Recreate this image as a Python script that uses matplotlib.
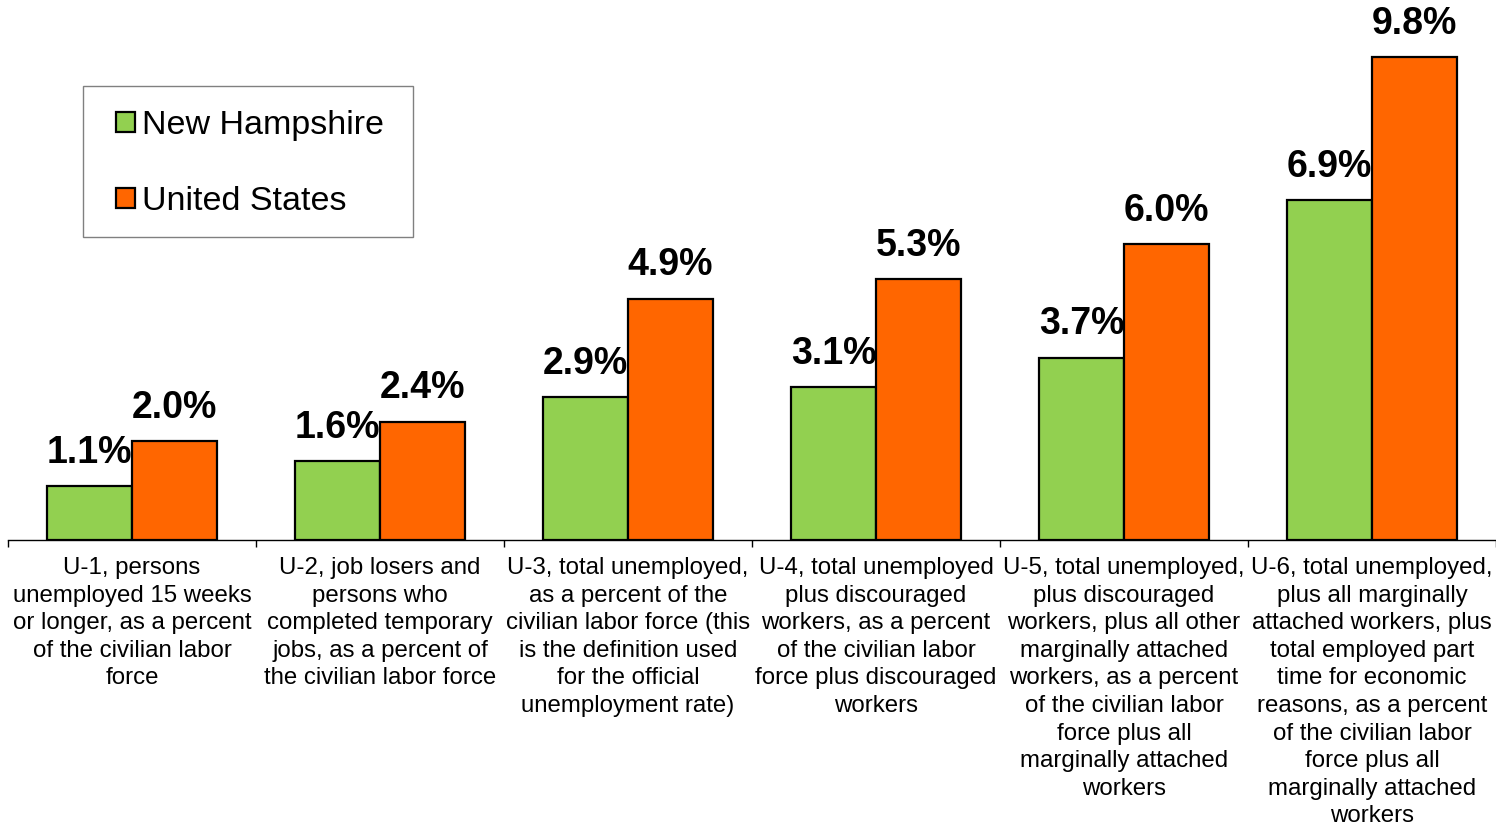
import matplotlib
matplotlib.use("Agg")
import matplotlib.pyplot as plt
import numpy as np
from matplotlib.ticker import FixedLocator, NullLocator
from matplotlib.patches import Patch, Rectangle
import matplotlib.transforms as mtransforms

plt.rcParams['font.family'] = ['Liberation Sans', 'DejaVu Sans']

categories = [
    "U-1, persons\nunemployed 15 weeks\nor longer, as a percent\nof the civilian labor\nforce",
    "U-2, job losers and\npersons who\ncompleted temporary\njobs, as a percent of\nthe civilian labor force",
    "U-3, total unemployed,\nas a percent of the\ncivilian labor force (this\nis the definition used\nfor the official\nunemployment rate)",
    "U-4, total unemployed\nplus discouraged\nworkers, as a percent\nof the civilian labor\nforce plus discouraged\nworkers",
    "U-5, total unemployed,\nplus discouraged\nworkers, plus all other\nmarginally attached\nworkers, as a percent\nof the civilian labor\nforce plus all\nmarginally attached\nworkers",
    "U-6, total unemployed,\nplus all marginally\nattached workers, plus\ntotal employed part\ntime for economic\nreasons, as a percent\nof the civilian labor\nforce plus all\nmarginally attached\nworkers",
]
new_hampshire = [1.1, 1.6, 2.9, 3.1, 3.7, 6.9]
united_states = [2.0, 2.4, 4.9, 5.3, 6.0, 9.8]
series_names = ["New Hampshire", "United States"]
colors = ["#92D050", "#FF6600"]

W, H = 1496, 825
fig = plt.figure(figsize=(W / 100, H / 100), dpi=100)
ax = fig.add_axes([8 / W, 285 / H, 1488 / W, 540 / H])

x = np.arange(len(categories))
w = 0.343
bars_nh = ax.bar(x - w / 2, new_hampshire, w, color=colors[0], edgecolor="black", linewidth=1.6)
bars_us = ax.bar(x + w / 2, united_states, w, color=colors[1], edgecolor="black", linewidth=1.6)

for bars, vals in ((bars_nh, new_hampshire), (bars_us, united_states)):
    for b, v in zip(bars, vals):
        ax.annotate(f"{v:.1f}%", (b.get_x() + b.get_width() / 2, v),
                    xytext=(0, 11), textcoords="offset points",
                    ha="center", va="bottom", fontsize=27, fontweight="bold")

ax.set_xlim(-0.5, len(categories) - 0.5)
ax.set_ylim(0, 10.96)
ax.yaxis.set_major_locator(NullLocator())
for s in ("left", "right", "top"):
    ax.spines[s].set_visible(False)
ax.spines["bottom"].set_linewidth(1.0)
ax.xaxis.set_major_locator(FixedLocator(np.arange(-0.5, len(categories), 1.0)))
ax.tick_params(axis="x", direction="out", length=5, width=1, labelbottom=False)

label_tf = mtransforms.blended_transform_factory(ax.transData, ax.transAxes) + \
    mtransforms.ScaledTranslation(0, -17 / 100, fig.dpi_scale_trans)
for xi, lab in zip(x, categories):
    ax.text(xi, 0, lab, transform=label_tf, ha="center", va="top",
            fontsize=17.3, linespacing=1.33)

# legend box drawn as its own frame, entries placed inside it
fig.patches.append(Rectangle((83 / W, 1 - 237 / H), 330 / W, 151 / H,
                             transform=fig.transFigure, facecolor="white",
                             edgecolor="#808080", linewidth=1.0, zorder=5))
handles = [Patch(facecolor=c, edgecolor="black", linewidth=1.6) for c in colors]
leg = fig.legend(handles, series_names, loc="upper left",
                 bbox_to_anchor=(116 / W, 1 - 110 / H),
                 fontsize=24.5, frameon=False,
                 handlelength=0.55, handleheight=0.55, handletextpad=0.2,
                 labelspacing=1.32, borderpad=0, borderaxespad=0)
leg.set_zorder(6)

fig.savefig("out.png", dpi=100)
